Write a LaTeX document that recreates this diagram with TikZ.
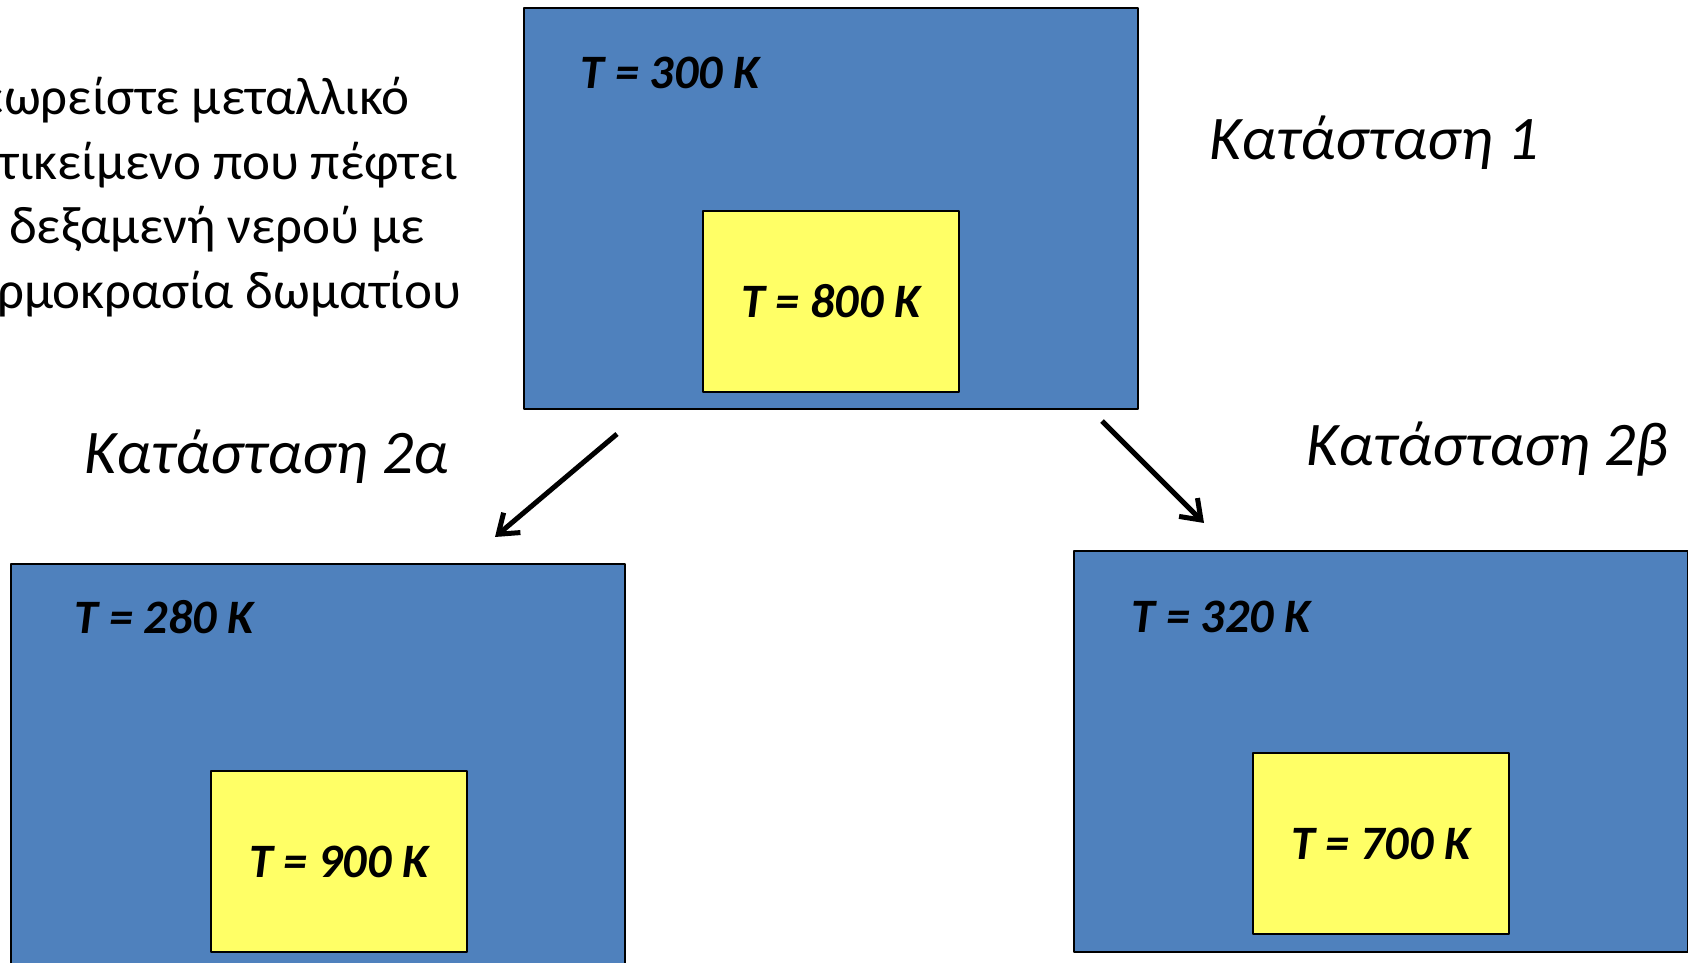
\documentclass[tikz,border=0pt]{standalone}
\usepackage{fontspec}
\setmainfont{Carlito}
\usetikzlibrary{arrows.meta}
\definecolor{tankblue}{HTML}{4F81BD}
\definecolor{hotyellow}{HTML}{FFFF66}

\begin{document}
\begin{tikzpicture}[>={Straight Barb[length=9bp,width=13bp]},line join=bevel,
  tank/.style={draw=black,line width=1bp,fill=tankblue,minimum width=307bp,minimum height=200.5bp,inner sep=0pt},
  body/.style={draw=black,line width=1bp,fill=hotyellow,minimum width=128bp,minimum height=90.5bp,inner sep=0pt,font=\fontsize{24bp}{29bp}\bfseries\itshape\selectfont},
  temp/.style={anchor=west,inner sep=0pt,font=\fontsize{24bp}{29bp}\bfseries\itshape\selectfont},
  state/.style={anchor=west,inner sep=0pt,font=\fontsize{31bp}{38bp}\itshape\selectfont},
  flow/.style={->,line width=2.5bp}]
%%
\clip (0bp,0bp) rectangle (844bp,481.5bp);
\node (intro) at (-27.8bp,383bp) [anchor=west,align=left,inner sep=0pt,font=\fontsize{26.5bp}{32.3bp}\selectfont] {Θεωρείστε μεταλλικό\\αντικείμενο που πέφτει\\σε δεξαμενή νερού με\\θερμοκρασία δωματίου};
%
\node (tank1) at (415.5bp,377.25bp) [tank] {};
  \node (ball1) at (415.5bp,330.75bp) [body] {T = 800 K};
  \node (t1) at (290bp,445bp) [temp] {T = 300 K};
\node (tank2a) at (159bp,99.25bp) [tank] {};
  \node (ball2a) at (169.5bp,50.75bp) [body] {T = 900 K};
  \node (t2a) at (37bp,173bp) [temp] {T = 280 K};
\node (tank2b) at (690.5bp,105.75bp) [tank] {};
  \node (ball2b) at (690.5bp,59.5bp) [body] {T = 700 K};
  \node (t2b) at (565.5bp,173bp) [temp] {T = 320 K};
%
\node (s1) at (604.5bp,410bp) [state] {Κατάσταση 1};
\node (s2a) at (42bp,253bp) [state] {Κατάσταση 2α};
\node (s2b) at (653bp,257bp) [state] {Κατάσταση 2β};
%
\coordinate (from2a) at (308.5bp,264.5bp);
\coordinate (to2a) at (247.5bp,213bp);
\coordinate (from2b) at (551bp,271bp);
\coordinate (to2b) at (602bp,220bp);
  \draw [flow] (from2a) -- (to2a);
  \draw [flow] (from2b) -- (to2b);
%
\end{tikzpicture}
\end{document}
